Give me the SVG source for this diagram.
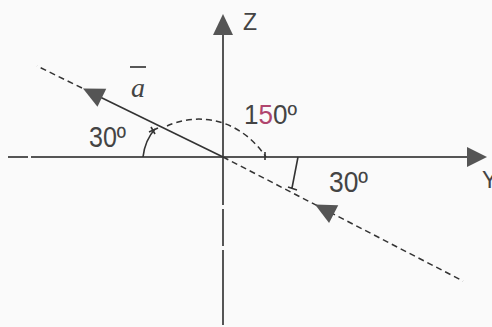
<svg xmlns="http://www.w3.org/2000/svg" width="492" height="327" viewBox="0 0 492 327">
<style>
.ax{stroke:#555;stroke-width:2;fill:none}
.ln{stroke:#333;stroke-width:1.6;fill:none}
.ds{stroke:#333;stroke-width:1.5;fill:none;stroke-dasharray:6 4}
.ar{fill:#555}
.t{font-family:"Liberation Sans",Arial,sans-serif;fill:#444}
</style>
<defs>
<polygon id="head" points="0,0 -21,-10 -21,10"/>
</defs>
<rect width="492" height="327" fill="#fafafa"/>
<g id="connectors">
  <!-- Y axis -->
  <path class="ax" d="M8,157 H28 M31,157 H470"/>
  <polygon class="ar" points="487,157 467,147 467,167"/>
  <!-- Z axis -->
  <path class="ax" d="M223,325 V250 M223,246 V209 M223,205 V34"/>
  <polygon class="ar" points="223,14 213,35 233,35"/>
  <!-- vector a line -->
  <path class="ln" d="M223,157 L98,96"/>
  <path class="ds" d="M82,88 L37,66"/>
  <use href="#head" class="ar" transform="translate(83,88.5) rotate(206.1)"/>
  <!-- lower dashed line -->
  <path class="ds" d="M223,157 L463,281"/>
  <use href="#head" class="ar" transform="translate(315,204.5) rotate(207.3)"/>
  <!-- arcs -->
  <path class="ln" d="M143,157 Q145,140 155,129"/>
  <path class="ln" d="M149,132 L158,128 M151,127 L155,134" stroke-width="1"/>
  <path class="ds" d="M167,126 C190,115 235,112 266,157" stroke-dasharray="5 3"/>
  <path class="ln" d="M265,152 V160"/>
  <path class="ln" d="M298,157 L292,188 M288,187 L297,190"/>
</g>
<g id="labels">
  <text class="t" x="243" y="30" font-size="23">Z</text>
  <text class="t" x="482" y="188" font-size="23">Y</text>
  <text class="t" x="89" y="147" font-size="29" textLength="37" lengthAdjust="spacingAndGlyphs">30º</text>
  <text class="t" x="329" y="192" font-size="29" textLength="39" lengthAdjust="spacingAndGlyphs">30º</text>
  <text class="t" x="244" y="124" font-size="27" textLength="53" lengthAdjust="spacingAndGlyphs">1<tspan fill="#b0456e">5</tspan>0º</text>
  <text x="131" y="97" font-size="28" font-family="'Liberation Serif',serif" font-style="italic" fill="#444">a</text>
  <line x1="130" y1="67" x2="146" y2="67" stroke="#444" stroke-width="1.8"/>
</g>
</svg>
